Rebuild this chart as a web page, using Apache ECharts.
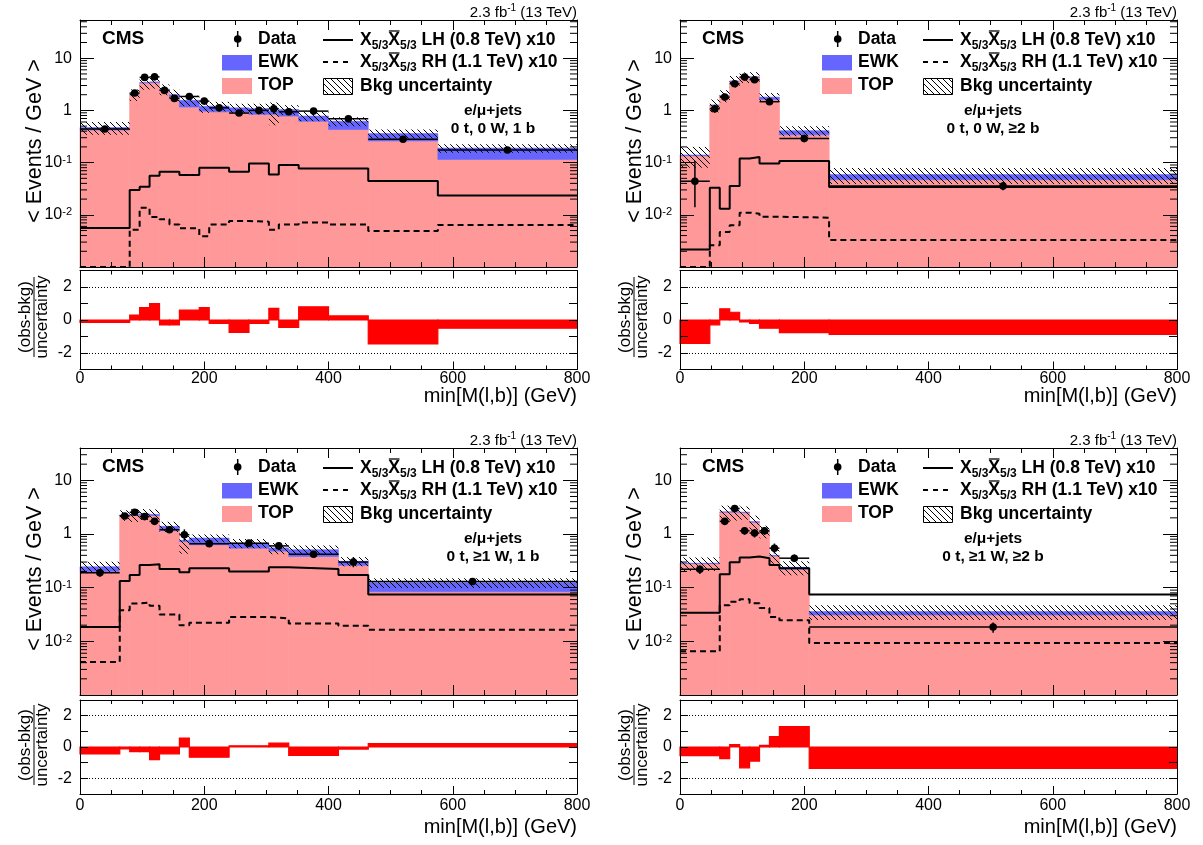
<!DOCTYPE html>
<html><head><meta charset="utf-8">
<script src="https://cdn.jsdelivr.net/npm/echarts@6/dist/echarts.min.js"></script>
<style>html,body{margin:0;padding:0;background:#fff}#c{width:1203px;height:845px}</style>
</head><body><div id="c"></div>
<script>
// ---------------- data ----------------
// Panel A : 0 t, 0 W, 1 b
const edgesA = [0,80,96,112,128,144,160,192,208,240,272,304,320,352,400,464,576,800];
const topA   = [0.42,1.97,3.35,3.4,2.4,1.8,1.16,0.97,0.94,0.93,0.84,0.84,0.78,0.62,0.43,0.26,0.115];
const ewkA   = [0.05,0.05,0.05,0.12,0.15,0.2,0.4,0.23,0.27,0.19,0.25,0.13,0.26,0.16,0.19,0.10,0.075];
const uncA   = [0.13,0.5,0.9,0.9,0.6,0.5,0.35,0.3,0.25,0.22,0.25,0.45,0.22,0.16,0.12,0.07,0.035];
const dataA  = [0.44,2.15,4.29,4.4,2.42,1.7,1.85,1.51,1.12,0.89,1.0,1.08,0.94,0.97,0.69,0.28,0.174];
const errUpA = [0.04,0.25,0.35,0.35,0.25,0.2,0.15,0.2,0.12,0.1,0.1,0.25,0.1,0.08,0.06,0.03,0.02];
const errDnA = [0.04,0.23,0.33,0.33,0.23,0.18,0.14,0.18,0.11,0.09,0.09,0.22,0.09,0.07,0.05,0.03,0.02];
const lhA    = [0.0056,0.0298,0.0345,0.056,0.0668,0.0668,0.0577,0.0797,0.0797,0.0668,0.0966,0.0594,0.0897,0.0775,0.0775,0.0443,0.0235];
const rhA    = [0.001,0.0052,0.0137,0.0091,0.0082,0.0065,0.0055,0.0039,0.0065,0.0076,0.0074,0.0052,0.0065,0.0071,0.0065,0.0049,0.0064];
const pullA  = [-0.15,0.3,0.75,1.0,-0.3,-0.3,0.6,0.75,-0.2,-0.75,-0.2,0.7,-0.45,0.8,0.25,-1.45,-0.5];

// Panel B : 0 t, 0 W, >=2 b
const edgesB = [0,48,64,80,96,112,128,160,240,800];
const topB   = [0.135,1.25,1.9,3.6,4.3,4.3,1.62,0.34,0.047];
const ewkB   = [0.005,0.02,0.03,0.05,0.05,0.1,0.18,0.07,0.012];
const uncB   = [0.06,0.35,0.5,0.9,1.0,1.0,0.35,0.09,0.02];
const dataB  = [0.044,1.08,1.8,3.24,4.35,3.87,1.47,0.29,0.0355];
const errUpB = [0.063,0.2,0.25,0.35,0.4,0.4,0.15,0.05,0.007];
const errDnB = [0.030,0.18,0.22,0.3,0.37,0.35,0.13,0.045,0.006];
const lhB    = [0.00217,0.033,0.0131,0.0355,0.12,0.128,0.0966,0.107,0.034];
const rhB    = [0.001,0.0026,0.0047,0.0063,0.011,0.0105,0.0092,0.0088,0.0033];
const pullB  = [-1.42,-0.29,0.68,0.47,-0.12,-0.2,-0.5,-0.76,-0.87];

// Panel C : 0 t, >=1 W, 1 b
const edgesC = [0,64,80,96,112,128,160,176,240,304,336,416,464,800];
const topC   = [0.2,2.23,2.23,2.25,2.2,1.15,0.72,0.63,0.545,0.48,0.38,0.26,0.084];
const ewkC   = [0.045,0.03,0.05,0.12,0.12,0.24,0.04,0.21,0.13,0.07,0.13,0.05,0.04];
const uncC   = [0.06,0.5,0.6,0.55,0.55,0.3,0.33,0.14,0.13,0.13,0.1,0.06,0.025];
const dataC  = [0.19,2.17,2.54,2.11,1.72,1.2,0.97,0.66,0.675,0.6,0.42,0.3,0.13];
const errUpC = [0.03,0.25,0.28,0.25,0.22,0.12,0.25,0.06,0.06,0.1,0.04,0.07,0.015];
const errDnC = [0.03,0.23,0.26,0.23,0.2,0.11,0.22,0.06,0.06,0.09,0.04,0.06,0.014];
const lhC    = [0.0185,0.133,0.172,0.265,0.273,0.223,0.193,0.23,0.199,0.24,0.223,0.172,0.0748];
const rhC    = [0.0041,0.038,0.0506,0.053,0.0458,0.0315,0.0199,0.0223,0.0285,0.0267,0.0215,0.0195,0.0165];
const pullC  = [-0.44,-0.12,-0.3,-0.3,-0.8,-0.44,0.57,-0.65,0.08,0.25,-0.53,-0.13,0.21];

// Panel D : 0 t, >=1 W, >=2 b
const edgesD = [0,64,80,96,112,128,144,160,208,800];
const topD   = [0.28,2.55,2.55,2.5,1.65,1.1,0.39,0.22,0.031];
const ewkD   = [0.005,0.02,0.03,0.05,0.05,0.03,0.01,0.02,0.005];
const uncD   = [0.08,0.8,0.8,0.7,0.5,0.3,0.12,0.07,0.011];
const dataD  = [0.22,1.72,2.98,1.15,1.04,1.15,0.544,0.354,0.0185];
const errUpD = [0.04,0.25,0.3,0.2,0.2,0.2,0.12,0.06,0.004];
const errDnD = [0.04,0.23,0.28,0.18,0.18,0.18,0.11,0.055,0.004];
const lhD    = [0.034,0.177,0.298,0.364,0.38,0.354,0.265,0.23,0.0748];
const rhD    = [0.0065,0.047,0.0545,0.061,0.051,0.042,0.0285,0.0247,0.0093];
const pullD  = [-0.55,-0.74,0.15,-1.33,-0.9,0.1,0.67,1.3,-1.37];

const catLabels = ['0 t, 0 W, 1 b','0 t, 0 W, \u22652 b','0 t, \u22651 W, 1 b','0 t, \u22651 W, \u22652 b'];
const logTickLabels = {'1':'10','0':'1','-1':'10^-1','-2':'10^-2'};
const ratioTickLabels = [-2,0,2];
const minorMult = [2,3,4,5,6,7,8,9];
const decades = [0.001,0.01,0.1,1,10];

// ---------------- styling / layout ----------------
const FONT = '"Liberation Sans", Arial, Helvetica, sans-serif';
const PINK = '#FF9999', BLUE = '#6666FF', RED = '#FF0000';
const YMIN = 0.001;

const panels = [
  {edges:edgesA, top:topA, ewk:ewkA, unc:uncA, data:dataA, eu:errUpA, ed:errDnA, lh:lhA, rh:rhA, pull:pullA, label:catLabels[0]},
  {edges:edgesB, top:topB, ewk:ewkB, unc:uncB, data:dataB, eu:errUpB, ed:errDnB, lh:lhB, rh:rhB, pull:pullB, label:catLabels[1]},
  {edges:edgesC, top:topC, ewk:ewkC, unc:uncC, data:dataC, eu:errUpC, ed:errDnC, lh:lhC, rh:rhC, pull:pullC, label:catLabels[2]},
  {edges:edgesD, top:topD, ewk:ewkD, unc:uncD, data:dataD, eu:errUpD, ed:errDnD, lh:lhD, rh:rhD, pull:pullD, label:catLabels[3]}
];
const LAY = [
  {ox:0,   oy:0,   left:80,  mainTop:20,  mainH:247, ratioTop:270.5, ratioH:99, ymax:54, labM:1, xtY:396, rtY:317, ytY:141},
  {ox:600, oy:0,   left:680, mainTop:20,  mainH:247, ratioTop:270.5, ratioH:99, ymax:54, labM:1, xtY:396, rtY:317, ytY:141},
  {ox:0,   oy:428, left:80,  mainTop:448, mainH:247, ratioTop:700,   ratioH:94, ymax:40, labM:4, xtY:827, rtY:745, ytY:569},
  {ox:600, oy:428, left:680, mainTop:448, mainH:247, ratioTop:700,   ratioH:94, ymax:40, labM:4, xtY:827, rtY:745, ytY:569}
];
const PW = 497;

const hatchCanvas = (function(){
  const s = 6, c = document.createElement('canvas'); c.width = s; c.height = s;
  const g = c.getContext('2d'); g.strokeStyle = '#000'; g.lineWidth = 1;
  g.beginPath(); g.moveTo(0,0); g.lineTo(s,s); g.moveTo(-1,s-1); g.lineTo(1,s+1); g.moveTo(s-1,-1); g.lineTo(s+1,1); g.stroke();
  return c;
})();
const HATCH = {image: hatchCanvas, repeat: 'repeat'};

function clipR(params, x, y, w, h) {
  const cs = params.coordSys;
  if (w < 0) { x += w; w = -w; }
  if (h < 0) { y += h; h = -h; }
  return echarts.graphic.clipRectByRect({x:x, y:y, width:w, height:h}, {x:cs.x, y:cs.y, width:cs.width, height:cs.height});
}

const grids = [], xAxes = [], yAxes = [], series = [], graphics = [];

function xAxisDef(gi, pos, labels, lm, majLen, minLen) {
  return {type:'value', gridIndex:gi, position:pos, min:0, max:800, interval:200, z:5,
    axisLine:{show:true, onZero:false, lineStyle:{color:'#000', width:1}},
    splitLine:{show:false},
    axisTick:{show:true, inside:true, length:majLen, lineStyle:{color:'#000', width:1}},
    minorTick:{show:true, splitNumber:4, length:minLen, lineStyle:{color:'#000', width:1}},
    axisLabel:{show:labels, margin:lm, color:'#000', fontSize:16, fontFamily:FONT}};
}

panels.forEach(function(P, p){
  const L = LAY[p];
  grids.push({left:L.left, top:L.mainTop, width:PW, height:L.mainH});
  grids.push({left:L.left, top:L.ratioTop, width:PW, height:L.ratioH});
  const gm = 2*p, gr = 2*p+1;
  xAxes.push(xAxisDef(gm,'bottom',false,0,10,5));
  xAxes.push(xAxisDef(gm,'top',false,0,10,5));
  xAxes.push(xAxisDef(gr,'bottom',true,L.labM,8,4));
  xAxes.push(xAxisDef(gr,'top',false,0,8,4));
  const logAx = function(pos, lab){ return {type:'log', logBase:10, gridIndex:gm, position:pos, min:YMIN, max:L.ymax, z:5,
    axisLine:{show:true, onZero:false, lineStyle:{color:'#000', width:1}},
    splitLine:{show:false},
    axisTick:{show:true, inside:true, length:14, lineStyle:{color:'#000'}},
    minorTick:{show:false},
    axisLabel:{show:lab, margin:8, color:'#000', fontSize:16, fontFamily:FONT,
      formatter:function(v){
        const e = Math.log10(v), r = Math.round(e);
        if (Math.abs(e-r) > 1e-6) return '';
        const t = logTickLabels[String(r)];
        if (!t) return '';
        if (t.indexOf('^') >= 0) { const parts = t.split('^'); return '{b|' + parts[0] + '}{s|' + parts[1] + '}'; }
        return t;
      },
      rich:{ b:{fontSize:16, fontFamily:FONT, color:'#000', lineHeight:16, verticalAlign:'bottom'},
             s:{fontSize:11, fontFamily:FONT, color:'#000', lineHeight:11, verticalAlign:'top'} } } }; };
  yAxes.push(logAx('left', true));
  yAxes.push(logAx('right', false));
  const linAx = function(pos, lab){ return {type:'value', gridIndex:gr, position:pos, min:-3, max:3, interval:1, z:5,
    axisLine:{show:true, onZero:false, lineStyle:{color:'#000', width:1}},
    splitLine:{show:false},
    axisTick:{show:true, inside:true, length:8, lineStyle:{color:'#000'}},
    minorTick:{show:false},
    axisLabel:{show:lab, margin:8, color:'#000', fontSize:16, fontFamily:FONT,
      formatter:function(v){ const r = Math.round(v); return (Math.abs(v-r)<1e-6 && ratioTickLabels.indexOf(r)>=0) ? String(r) : ''; }}}; };
  yAxes.push(linAx('left', true));
  yAxes.push(linAx('right', false));
  const xm = 4*p, xr = 4*p+2, ym = 4*p, yr = 4*p+2;
  const E = P.edges, n = P.top.length;

  const stackData = [], uncData = [], ptData = [], pullData = [];
  for (let i = 0; i < n; i++) {
    const tot = P.top[i] + P.ewk[i];
    stackData.push([E[i], E[i+1], P.top[i], tot]);
    uncData.push([E[i], E[i+1], Math.max(tot - P.unc[i], 1e-5), tot + P.unc[i]]);
    ptData.push([E[i], E[i+1], P.data[i], P.eu[i], P.ed[i]]);
    pullData.push([E[i], E[i+1], P.pull[i]]);
  }
  series.push({type:'custom', xAxisIndex:xm, yAxisIndex:ym, z:1, silent:true, data:stackData,
    encode:{x:[0,1], y:[2,3]},
    renderItem:function(params, api){
      const x0=api.value(0), x1=api.value(1), t=api.value(2), tot=api.value(3);
      const a = api.coord([x0, t]), b = api.coord([x1, YMIN]), c = api.coord([x0, tot]);
      const kids = [];
      const r1 = clipR(params, a[0], a[1], b[0]-a[0], b[1]-a[1]);
      if (r1) kids.push({type:'rect', shape:r1, style:{fill:PINK, stroke:PINK, lineWidth:0.8}});
      const r2 = clipR(params, c[0], c[1], b[0]-c[0], a[1]-c[1]);
      if (r2) kids.push({type:'rect', shape:r2, style:{fill:BLUE, stroke:BLUE, lineWidth:0.6}});
      return {type:'group', children:kids};
    }});
  series.push({type:'custom', xAxisIndex:xm, yAxisIndex:ym, z:2, silent:true, data:uncData,
    encode:{x:[0,1], y:[2,3]},
    renderItem:function(params, api){
      const a = api.coord([api.value(0), api.value(3)]), b = api.coord([api.value(1), api.value(2)]);
      const r = clipR(params, a[0], a[1], b[0]-a[0], b[1]-a[1]);
      return r ? {type:'rect', shape:r, style:{fill:HATCH}} : null;
    }});
  const stepPts = function(vals){ const out = []; for (let i=0;i<vals.length;i++) out.push([E[i], vals[i]]); out.push([E[vals.length], vals[vals.length-1]]); return out; };
  series.push({type:'line', xAxisIndex:xm, yAxisIndex:ym, z:3, silent:true, step:'end', symbol:'none', clip:true,
    data:stepPts(P.lh), lineStyle:{color:'#000', width:2}});
  series.push({type:'line', xAxisIndex:xm, yAxisIndex:ym, z:3, silent:true, step:'end', symbol:'none', clip:true,
    data:stepPts(P.rh), lineStyle:{color:'#000', width:2, type:[6,4]}});
  series.push({type:'custom', xAxisIndex:xm, yAxisIndex:ym, z:4, silent:true, data:ptData,
    encode:{x:[0,1], y:2},
    renderItem:function(params, api){
      const cs = params.coordSys;
      const x0=api.value(0), x1=api.value(1), v=api.value(2), eu=api.value(3), ed=api.value(4);
      const xc = (x0+x1)/2;
      const p = api.coord([xc, v]), pl = api.coord([x0, v]), pr = api.coord([x1, v]);
      const pu = api.coord([xc, v+eu]), pd = api.coord([xc, Math.max(v-ed, 1e-5)]);
      const xl = Math.max(pl[0], cs.x), xrr = Math.min(pr[0], cs.x+cs.width);
      const yb = Math.min(pd[1], cs.y+cs.height);
      return {type:'group', children:[
        {type:'line', shape:{x1:xl, y1:p[1], x2:xrr, y2:p[1]}, style:{stroke:'#000', lineWidth:1.5}},
        {type:'line', shape:{x1:p[0], y1:pu[1], x2:p[0], y2:yb}, style:{stroke:'#000', lineWidth:1.5}},
        {type:'circle', shape:{cx:p[0], cy:p[1], r:3.8}, style:{fill:'#000'}}
      ]};
    }});
  const minorData = [];
  decades.forEach(function(d){ minorMult.forEach(function(m){ const v = d*m; if (v > YMIN && v < L.ymax) minorData.push([0, v]); }); });
  series.push({type:'custom', xAxisIndex:xm, yAxisIndex:ym, z:6, silent:true, data:minorData,
    renderItem:function(params, api){
      const cs = params.coordSys; const y = api.coord([0, api.value(1)])[1];
      if (y < cs.y || y > cs.y + cs.height) return null;
      return {type:'group', children:[
        {type:'line', shape:{x1:cs.x, y1:y, x2:cs.x+7, y2:y}, style:{stroke:'#000', lineWidth:1}},
        {type:'line', shape:{x1:cs.x+cs.width-7, y1:y, x2:cs.x+cs.width, y2:y}, style:{stroke:'#000', lineWidth:1}}
      ]};
    }});
  series.push({type:'custom', xAxisIndex:xr, yAxisIndex:yr, z:2, silent:true, data:pullData,
    encode:{x:[0,1], y:2},
    renderItem:function(params, api){
      const a = api.coord([api.value(0), api.value(2)]), b = api.coord([api.value(1), 0]);
      const r = clipR(params, a[0], a[1], b[0]-a[0], b[1]-a[1]);
      return r ? {type:'rect', shape:r, style:{fill:RED, stroke:RED, lineWidth:1.2}} : null;
    },
    markLine:{silent:true, symbol:'none', animation:false, label:{show:false},
      lineStyle:{type:[1,2], color:'#000', width:1}, data:[{yAxis:2},{yAxis:-2}]}});

  const ox = L.ox, oy = L.oy;
  const txt = function(x, y, text, size, weight, align, extra){
    return Object.assign({type:'text', x:x, y:y, z:100, silent:true, style:{text:text, fill:'#000', fontSize:size, fontWeight:weight||'normal', fontFamily:FONT,
      align:align||'left', textAlign:align||'left', verticalAlign:'middle', textVerticalAlign:'middle'}}, extra||{});
  };
  graphics.push(txt(102+ox, 39+oy, 'CMS', 19, 'bold'));
  graphics.push({type:'text', x:577+ox, y:12+oy, z:100, silent:true, style:{text:'{n|2.3 fb}{s|-1}{n| (13 TeV)}', align:'right', textAlign:'right', verticalAlign:'middle', textVerticalAlign:'middle',
    rich:{n:{fontSize:15, fontFamily:FONT, fill:'#000', color:'#000', lineHeight:17, verticalAlign:'bottom'}, s:{fontSize:10, fontFamily:FONT, fill:'#000', color:'#000', lineHeight:10, verticalAlign:'top'}}}});
  graphics.push({type:'line', z:100, silent:true, shape:{x1:237.7+ox, y1:31+oy, x2:237.7+ox, y2:47+oy}, style:{stroke:'#000', lineWidth:1.5}});
  graphics.push({type:'circle', z:100, silent:true, shape:{cx:237.7+ox, cy:39+oy, r:3.8}, style:{fill:'#000'}});
  graphics.push(txt(258+ox, 39+oy, 'Data', 17.5, 'bold'));
  graphics.push({type:'rect', z:100, silent:true, shape:{x:222+ox, y:55+oy, width:30, height:15.5}, style:{fill:BLUE}});
  graphics.push(txt(258+ox, 62+oy, 'EWK', 17.5, 'bold'));
  graphics.push({type:'rect', z:100, silent:true, shape:{x:222+ox, y:78+oy, width:30, height:16}, style:{fill:PINK}});
  graphics.push(txt(258+ox, 85.5+oy, 'TOP', 17.5, 'bold'));
  graphics.push({type:'line', z:100, silent:true, shape:{x1:323+ox, y1:40+oy, x2:353+ox, y2:40+oy}, style:{stroke:'#000', lineWidth:2}});
  graphics.push({type:'line', z:100, silent:true, shape:{x1:323+ox, y1:62+oy, x2:353+ox, y2:62+oy}, style:{stroke:'#000', lineWidth:2, lineDash:[5,5]}});
  graphics.push({type:'rect', z:100, silent:true, shape:{x:323.5+ox, y:78.5+oy, width:29, height:16}, style:{fill:HATCH, stroke:'#000', lineWidth:1}});
  const richSig = {b:{fontSize:17.5, fontWeight:'bold', fontFamily:FONT, color:'#000', lineHeight:24, verticalAlign:'middle'},
                   s:{fontSize:12, fontWeight:'bold', fontFamily:FONT, color:'#000', lineHeight:12, verticalAlign:'bottom'}};
  [['LH (0.8 TeV) x10', 40], ['RH (1.1 TeV) x10', 62]].forEach(function(it){
    graphics.push({type:'text', x:360+ox, y:it[1]+oy, z:100, silent:true, style:{text:'{b|X}{s|5/3}{b|X}{s|5/3}{b| ' + it[0] + '}',
      align:'left', textAlign:'left', verticalAlign:'middle', textVerticalAlign:'middle', rich:richSig}});
    const ctx = document.createElement('canvas').getContext('2d');
    ctx.font = 'bold 17.5px ' + FONT; const wX = ctx.measureText('X').width;
    ctx.font = 'bold 12px ' + FONT; const w53 = ctx.measureText('5/3').width;
    const xs = 360 + ox + wX + w53;
    graphics.push({type:'line', z:100, silent:true, shape:{x1:xs+0.5, y1:it[1]+oy-9, x2:xs+wX-0.5, y2:it[1]+oy-9}, style:{stroke:'#000', lineWidth:1.3}});
  });
  graphics.push(txt(360+ox, 86+oy, 'Bkg uncertainty', 17.5, 'bold'));
  const cx = (p % 2 === 0) ? 493 : 993;
  graphics.push(txt(cx, 111+oy, 'e/\u03bc+jets', 15.5, 'bold', 'center'));
  graphics.push(txt(cx, 129+oy, P.label, 15.5, 'bold', 'center'));
  graphics.push(txt(35+ox, L.ytY, '< Events / GeV >', 21.5, 'normal', 'center', {rotation:Math.PI/2}));
  graphics.push(txt(577+ox, L.xtY, 'min[M(l,b)] (GeV)', 20, 'normal', 'right'));
  graphics.push({type:'group', x:34+ox, y:L.rtY, rotation:Math.PI/2, z:100, silent:true, children:[
    {type:'text', x:0, y:-9, style:{text:'(obs-bkg)', fill:'#000', fontSize:17, fontFamily:FONT, align:'center', textAlign:'center', verticalAlign:'middle', textVerticalAlign:'middle'}},
    {type:'text', x:0, y:8.5, style:{text:'uncertainty', fill:'#000', fontSize:17, fontFamily:FONT, align:'center', textAlign:'center', verticalAlign:'middle', textVerticalAlign:'middle'}},
    {type:'line', shape:{x1:-40, y1:0, x2:40, y2:0}, style:{stroke:'#000', lineWidth:1}}
  ]});
});

const chart = echarts.init(document.getElementById('c'), null, {renderer:'canvas'});
chart.setOption({
  animation:false,
  backgroundColor:'#fff',
  grid:grids, xAxis:xAxes, yAxis:yAxes, series:series, graphic:graphics
});
</script>
</body></html>
